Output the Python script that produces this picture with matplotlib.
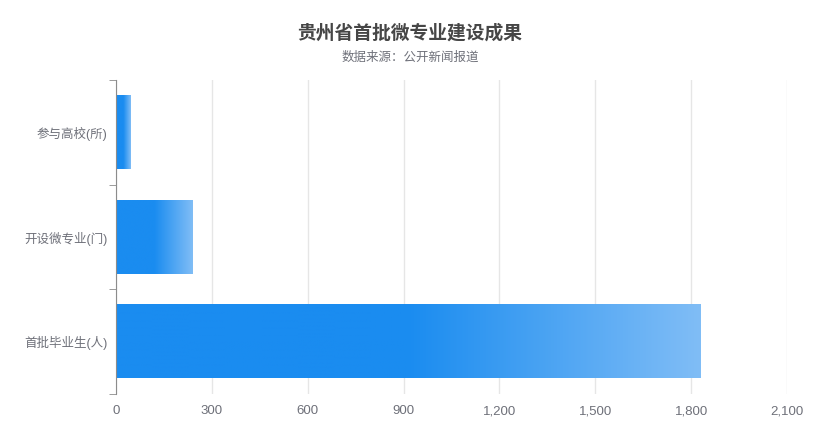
import numpy as np
import matplotlib.pyplot as plt
from matplotlib.colors import LinearSegmentedColormap

plt.rcParams['font.family'] = ['Liberation Sans', 'Noto Sans CJK SC', 'DejaVu Sans']

categories = ['参与高校(所)', '开设微专业(门)', '首批毕业生(人)']
values = [44, 240, 1830]
xticks = [0, 300, 600, 900, 1200, 1500, 1800, 2100]

fig = plt.figure(figsize=(8.35, 4.43), dpi=100)
ax = fig.add_axes([0.139, 0.1106, 0.8036, 0.7088])

# solid blue for the first half, fading lighter towards the bar end
cmap = LinearSegmentedColormap.from_list(
    'bar', [(0, '#1a8cf0'), (0.5, '#1a8cf0'), (1, '#80bdf6')])
grad = np.linspace(0, 1, 256).reshape(1, -1)

n = len(categories)
ypos = np.arange(n)[::-1]
h = 0.7
for y, v in zip(ypos, values):
    ax.imshow(grad, cmap=cmap, aspect='auto', interpolation='bilinear',
              extent=(0, v, y - h / 2, y + h / 2), zorder=2)

ax.set_xlim(0, 2100)
ax.set_ylim(-0.5, n - 0.5)
ax.set_xticks(xticks)
ax.set_xticklabels([f'{t:,}' for t in xticks])
ax.set_yticks(ypos)
ax.set_yticklabels(categories)
ax.set_yticks(np.arange(-0.5, n, 1), minor=True)

ax.grid(axis='x', color='#e6e6e6', linewidth=1, zorder=0)
for s in ['top', 'right', 'bottom']:
    ax.spines[s].set_visible(False)
ax.spines['left'].set_color('#8c8c8c')
ax.tick_params(axis='x', length=0, colors='#6e7079', labelsize=9.5, pad=8)
ax.tick_params(axis='y', which='major', length=0, colors='#6e7079', labelsize=9, pad=6)
ax.tick_params(axis='y', which='minor', length=5, color='#8c8c8c')
ax.set_axisbelow(True)

fig.text(0.491, 0.925, '贵州省首批微专业建设成果', ha='center', va='center',
         fontsize=13.5, fontweight='bold', color='#464646')
fig.text(0.491, 0.869, '数据来源：公开新闻报道', ha='center', va='center',
         fontsize=9, color='#6e7079')

fig.savefig('out.png', dpi=100)
